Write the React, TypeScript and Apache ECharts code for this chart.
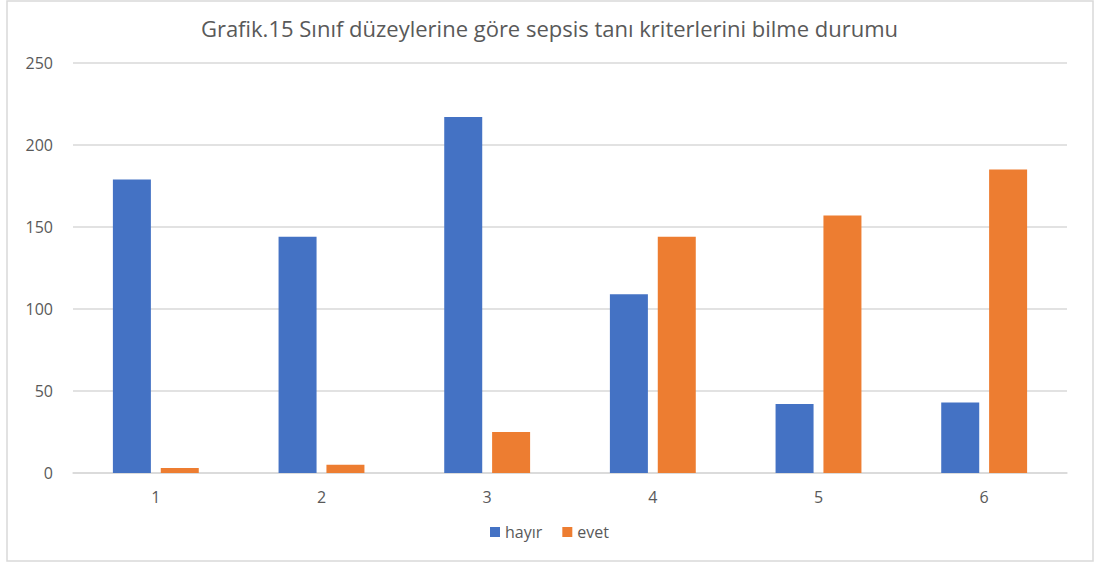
import React, { useEffect, useRef } from "react";
import * as echarts from "echarts";

const categories = ["1", "2", "3", "4", "5", "6"];
const hayir = [179, 144, 217, 109, 42, 43];
const evet = [3, 5, 25, 144, 157, 185];
const seriesNames = ["hayır", "evet"];
const titleText = "Grafik.15 Sınıf düzeylerine göre sepsis tanı kriterlerini bilme durumu";

export default function App() {
  const ref = useRef<HTMLDivElement>(null);
  useEffect(() => {
    document.body.style.margin = "0";
    const chart = echarts.init(ref.current!, null, { renderer: "svg" });
    const font = "'Open Sans', 'Noto Sans', sans-serif";
    chart.setOption({
      animation: false,
      backgroundColor: "#ffffff",
      textStyle: { fontFamily: font },
      title: {
        text: titleText,
        left: "center",
        top: 12,
        textStyle: { fontFamily: font, fontSize: 22, fontWeight: "normal", color: "#595959" },
      },
      graphic: [
        {
          type: "rect",
          shape: { x: 7, y: 1, width: 1086, height: 560 },
          style: { fill: "none", stroke: "#d9d9d9", lineWidth: 1.5 },
          silent: true,
        },
      ],
      legend: {
        bottom: 20,
        left: "center",
        itemWidth: 10,
        itemHeight: 10,
        itemGap: 20,
        icon: "rect",
        textStyle: { fontFamily: font, fontSize: 16, color: "#595959" },
        data: seriesNames,
      },
      grid: { left: 73, right: 32, top: 63, bottom: 92, containLabel: false },
      xAxis: {
        type: "category",
        data: categories,
        axisLine: { lineStyle: { color: "#d9d9d9", width: 1.5 } },
        axisTick: { show: false },
        axisLabel: { color: "#595959", fontSize: 16, margin: 16, fontFamily: font },
      },
      yAxis: {
        type: "value",
        min: 0,
        max: 250,
        interval: 50,
        axisLine: { show: false },
        axisTick: { show: false },
        splitLine: { lineStyle: { color: "#d9d9d9", width: 1.5 } },
        axisLabel: { color: "#595959", fontSize: 16, margin: 20, fontFamily: font },
      },
      series: [
        {
          name: seriesNames[0],
          type: "bar",
          data: hayir,
          barWidth: 38,
          barGap: "26%",
          itemStyle: { color: "#4472c4" },
        },
        {
          name: seriesNames[1],
          type: "bar",
          data: evet,
          barWidth: 38,
          barGap: "26%",
          itemStyle: { color: "#ed7d31" },
        },
      ],
    });
    return () => chart.dispose();
  }, []);
  return <div ref={ref} style={{ width: 1099, height: 565 }} />;
}
